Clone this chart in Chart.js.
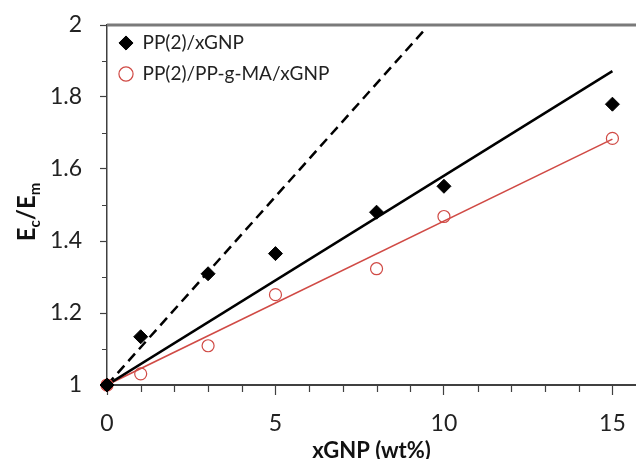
<!DOCTYPE html>
<html>
<head>
<meta charset="utf-8">
<script src="https://cdn.jsdelivr.net/npm/chart.js@4"></script>
<style>
  body { margin: 0; background: #fff; }
  #wrap { width: 636px; height: 459px; }
</style>
</head>
<body>
<div id="wrap"><canvas id="chart" width="636" height="459"></canvas></div>
<script>
// xGNP loading (wt%)
const gnpLoading = [0, 1, 3, 5, 8, 10, 15];
// Ec/Em measured
const ppGnp = [1, 1.134, 1.309, 1.365, 1.48, 1.552, 1.78];
const ppMaGnp = [1, 1.031, 1.109, 1.251, 1.323, 1.468, 1.685];
// fitted / model lines
const fitX = [0, 15];
const fitPpGnp = [1, 1.872];
const fitPpMaGnp = [1, 1.683];
const boundX = [0, 9.4];
const boundY = [1, 1.984];

const xTicksMajor = [0, 5, 10, 15];
const yTicksMajor = [1, 1.2, 1.4, 1.6, 1.8, 2];

const red = '#d04a45';
const axisColor = '#404040';
const fontFamily = 'Lato, "Noto Sans", sans-serif';

function pts(xs, ys) {
    return xs.map((x, i) => ({ x: x, y: ys[i] }));
}

// minor tick marks, top border + y title with subscripts
const extrasPlugin = {
    id: 'extras',
    afterDraw(chart) {
        const c = chart.ctx;
        const xs = chart.scales.x;
        const ys = chart.scales.y;
        c.save();
        c.setLineDash([]);
        c.fillStyle = '#7a7a7a';
        c.fillRect(xs.left, ys.top - 1.5, xs.right - xs.left, 3);

        c.strokeStyle = axisColor;
        c.lineWidth = 1.2;
        c.beginPath();
        for (let v = 1; v < 16; v++) {
            if (v % 5 === 0 || v > xs.max) continue;
            const px = Math.round(xs.getPixelForValue(v)) + 0.5;
            c.moveTo(px, ys.bottom);
            c.lineTo(px, ys.bottom + 7);
        }
        for (let v = 1.1; v < 2; v += 0.2) {
            const py = Math.round(ys.getPixelForValue(v)) + 0.5;
            c.moveTo(xs.left, py);
            c.lineTo(xs.left - 5, py);
        }
        c.stroke();

        // E_c / E_m
        const big = 'bold 24px ' + fontFamily;
        const small = 'bold 15px ' + fontFamily;
        const parts = [
            { t: 'E', f: big, dy: 0 },
            { t: 'c', f: small, dy: 5 },
            { t: '/', f: big, dy: 0 },
            { t: 'E', f: big, dy: 0 },
            { t: 'm', f: small, dy: 5 }
        ];
        let total = 0;
        parts.forEach(p => { c.font = p.f; p.w = c.measureText(p.t).width; total += p.w; });
        c.translate(35, 212);
        c.rotate(-Math.PI / 2);
        c.fillStyle = '#111';
        c.textBaseline = 'alphabetic';
        let cx = -total / 2;
        parts.forEach(p => {
            c.font = p.f;
            c.fillText(p.t, cx, p.dy);
            cx += p.w;
        });
        c.restore();
    }
};

new Chart(document.getElementById('chart'), {
    type: 'scatter',
    data: {
        datasets: [
            {
                label: 'PP(2)/xGNP',
                data: pts(gnpLoading, ppGnp),
                pointStyle: 'rectRot',
                pointRadius: 7,
                pointBackgroundColor: '#000',
                pointBorderColor: '#000',
                pointBorderWidth: 1,
                showLine: false,
                clip: false,
                order: 1
            },
            {
                label: 'PP(2)/PP-g-MA/xGNP',
                data: pts(gnpLoading, ppMaGnp),
                pointStyle: 'circle',
                pointRadius: 6,
                pointBackgroundColor: 'rgba(255,255,255,0)',
                pointBorderColor: red,
                pointBorderWidth: 1.2,
                showLine: false,
                clip: false,
                order: 2
            },
            {
                label: 'fit1',
                data: pts(fitX, fitPpGnp),
                showLine: true,
                borderColor: '#000',
                borderWidth: 2.5,
                pointRadius: 0,
                order: 3
            },
            {
                label: 'fit2',
                data: pts(fitX, fitPpMaGnp),
                showLine: true,
                borderColor: red,
                borderWidth: 1.6,
                pointRadius: 0,
                order: 4
            },
            {
                label: 'bound',
                data: pts(boundX, boundY),
                showLine: true,
                borderColor: '#000',
                borderWidth: 2.5,
                borderDash: [10, 6],
                pointRadius: 0,
                order: 5
            }
        ]
    },
    options: {
        responsive: false,
        animation: false,
        layout: { autoPadding: false, padding: { top: 25, right: 0, left: 0, bottom: 0 } },
        plugins: {
            legend: {
                position: 'chartArea',
                align: 'start',
                title: {
                    display: true,
                    text: ' ',
                    font: { size: 10 },
                    padding: { top: 9.5, bottom: 0 }
                },
                labels: {
                    filter: item => item.datasetIndex < 2,
                    usePointStyle: true,
                    boxWidth: 14,
                    boxHeight: 10,
                    padding: 12,
                    color: '#222',
                    font: { family: fontFamily, size: 19 }
                }
            },
            tooltip: { enabled: false }
        },
        scales: {
            x: {
                type: 'linear',
                min: 0,
                max: 15.7,
                afterFit: s => {
                    s.height = 74;
                    s.paddingLeft = 0;
                    s.paddingRight = 0;
                },
                afterBuildTicks: s => { s.ticks = xTicksMajor.map(v => ({ value: v })); },
                border: { color: axisColor, width: 2 },
                grid: { drawOnChartArea: false, tickLength: 10, tickColor: axisColor, tickWidth: 1.2 },
                ticks: {
                    padding: 15,
                    color: '#222',
                    font: { family: fontFamily, size: 23 },
                    callback: v => String(v)
                },
                title: {
                    display: true,
                    text: 'xGNP (wt%)',
                    color: '#111',
                    font: { family: fontFamily, size: 22, weight: 'bold', lineHeight: 0.75 },
                    padding: { top: 0, bottom: 0 }
                }
            },
            y: {
                type: 'linear',
                min: 1,
                max: 2,
                afterFit: s => {
                    s.width = 107;
                    s.paddingTop = 0;
                    s.paddingBottom = 0;
                },
                afterBuildTicks: s => { s.ticks = yTicksMajor.map(v => ({ value: v })); },
                border: { color: axisColor, width: 1.5 },
                grid: {
                    drawOnChartArea: false,
                    tickLength: 7,
                    tickColor: axisColor,
                    tickWidth: 1.2
                },
                ticks: {
                    padding: 18,
                    color: '#222',
                    font: { family: fontFamily, size: 23 },
                    callback: v => String(+Number(v).toFixed(1))
                }
            }
        }
    },
    plugins: [extrasPlugin]
});
</script>
</body>
</html>
